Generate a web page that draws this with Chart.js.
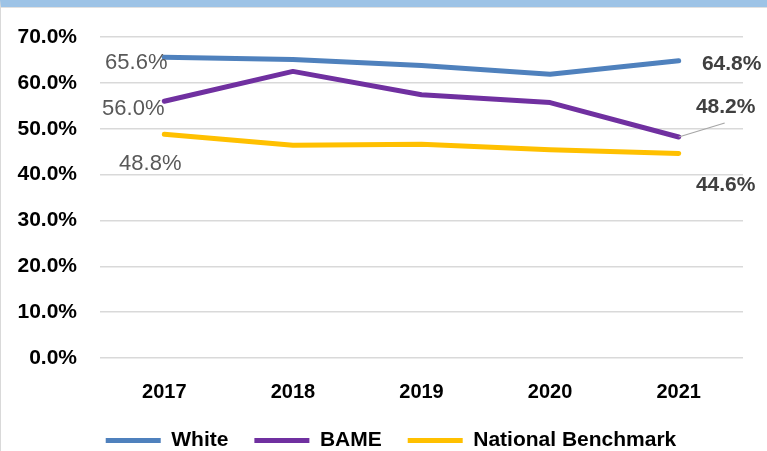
<!DOCTYPE html>
<html>
<head>
<meta charset="utf-8">
<script src="https://cdn.jsdelivr.net/npm/chart.js@4/dist/chart.umd.min.js"></script>
<style>
  html, body { margin: 0; padding: 0; background: #fff; }
  body { width: 767px; height: 451px; overflow: hidden; position: relative; }
  .frame { position: absolute; left: 0; top: 0; width: 766px; height: 444px;
           border-top: 7px solid #9DC3E6; border-left: 1px solid #D9D9D9; }
  .frame .inner { position: absolute; left: 0; top: 0; right: 0; height: 1px; background: #E0E0E0; }
  #wrap { position: absolute; left: 1px; top: 8px; width: 766px; height: 443px; }
</style>
</head>
<body>
<div class="frame"><div class="inner"></div></div>
<div id="wrap"><canvas id="chart"></canvas></div>
<script>
const years = ['2017', '2018', '2019', '2020', '2021'];
const white = [65.6, 65.1, 63.8, 61.9, 64.8];
const bame = [56.0, 62.5, 57.4, 55.7, 48.2];
const benchmark = [48.8, 46.4, 46.6, 45.4, 44.6];

const yTicks = [0, 10, 20, 30, 40, 50, 60, 70];

const FONT = "'Liberation Sans', Arial, sans-serif";

// where the first / last value labels sit relative to their point (dx = centre, dy = baseline)
const firstLabelPos = [[-28, 12], [-31, 14], [-14, 36]];
const lastLabelPos = [[53, 9], [47, -24], [47, 38]];

const endLabels = {
  id: 'endLabels',
  afterDatasetsDraw(chart) {
    const ctx = chart.ctx;
    ctx.save();
    ctx.textAlign = 'center';
    ctx.textBaseline = 'alphabetic';
    chart.data.datasets.forEach((ds, i) => {
      const pts = chart.getDatasetMeta(i).data;
      const first = pts[0], last = pts[pts.length - 1];

      ctx.font = `22px ${FONT}`;
      ctx.fillStyle = '#595959';
      ctx.fillText(ds.data[0].toFixed(1) + '%', first.x + firstLabelPos[i][0], first.y + firstLabelPos[i][1]);

      // BAME's last label is lifted off the line, so it gets a leader
      if (i === 1) {
        ctx.strokeStyle = '#A6A6A6';
        ctx.lineWidth = 1.2;
        ctx.beginPath();
        ctx.moveTo(last.x, last.y);
        ctx.lineTo(last.x + 46, last.y - 14);
        ctx.stroke();
      }

      ctx.font = `bold 21px ${FONT}`;
      ctx.fillStyle = '#404040';
      ctx.fillText(ds.data[ds.data.length - 1].toFixed(1) + '%', last.x + lastLabelPos[i][0], last.y + lastLabelPos[i][1]);
    });
    ctx.restore();
  }
};

// nudge the legend row a little to the right of the canvas centre
const legendShift = {
  id: 'legendShift',
  afterLayout(chart) {
    if (chart.legend) chart.legend.left += 38;
  }
};

const line = (label, data, color) => ({
  label, data,
  borderColor: color,
  backgroundColor: color,
  borderWidth: 5,
  borderCapStyle: 'round',
  borderJoinStyle: 'round',
  pointRadius: 0,
  tension: 0,
});

new Chart(document.getElementById('chart'), {
  type: 'line',
  data: {
    labels: years,
    datasets: [
      line('White', white, '#4F81BD'),
      line('BAME', bame, '#7030A0'),
      line('National Benchmark', benchmark, '#FFC000'),
    ]
  },
  options: {
    responsive: true,
    maintainAspectRatio: false,
    animation: false,
    layout: { padding: { top: 29, right: 24, bottom: 0, left: 0 } },
    scales: {
      x: {
        offset: true,
        grid: { display: false, drawTicks: false },
        border: { display: false },
        ticks: { color: '#000', font: { family: FONT, size: 20, weight: 'bold' }, padding: 22 },
        afterFit: s => { s.height = 46; }
      },
      y: {
        min: 0, max: 70,
        afterBuildTicks: s => { s.ticks = yTicks.map(v => ({ value: v })); },
        grid: { color: '#D9D9D9', lineWidth: 1.5, drawTicks: false },
        border: { display: false },
        ticks: {
          color: '#000',
          font: { family: FONT, size: 21, weight: 'bold' },
          padding: 23,
          callback: v => v.toFixed(1) + '%'
        },
        // keep the tick padding from pushing the plot area down
        afterFit: s => { s.width = 99; s.paddingTop = 0; s.paddingBottom = 0; }
      }
    },
    plugins: {
      legend: {
        position: 'bottom',
        maxHeight: 47,
        labels: {
          boxWidth: 55,
          boxHeight: 5,
          padding: 26,
          color: '#000',
          font: { family: FONT, size: 21, weight: 'bold' },
          generateLabels: chart => chart.data.datasets.map((ds, i) => ({
            text: ds.label,
            fillStyle: ds.borderColor,
            strokeStyle: ds.borderColor,
            lineWidth: 0,
            datasetIndex: i,
          }))
        }
      },
      tooltip: { enabled: false }
    }
  },
  plugins: [endLabels, legendShift]
});
</script>
</body>
</html>
